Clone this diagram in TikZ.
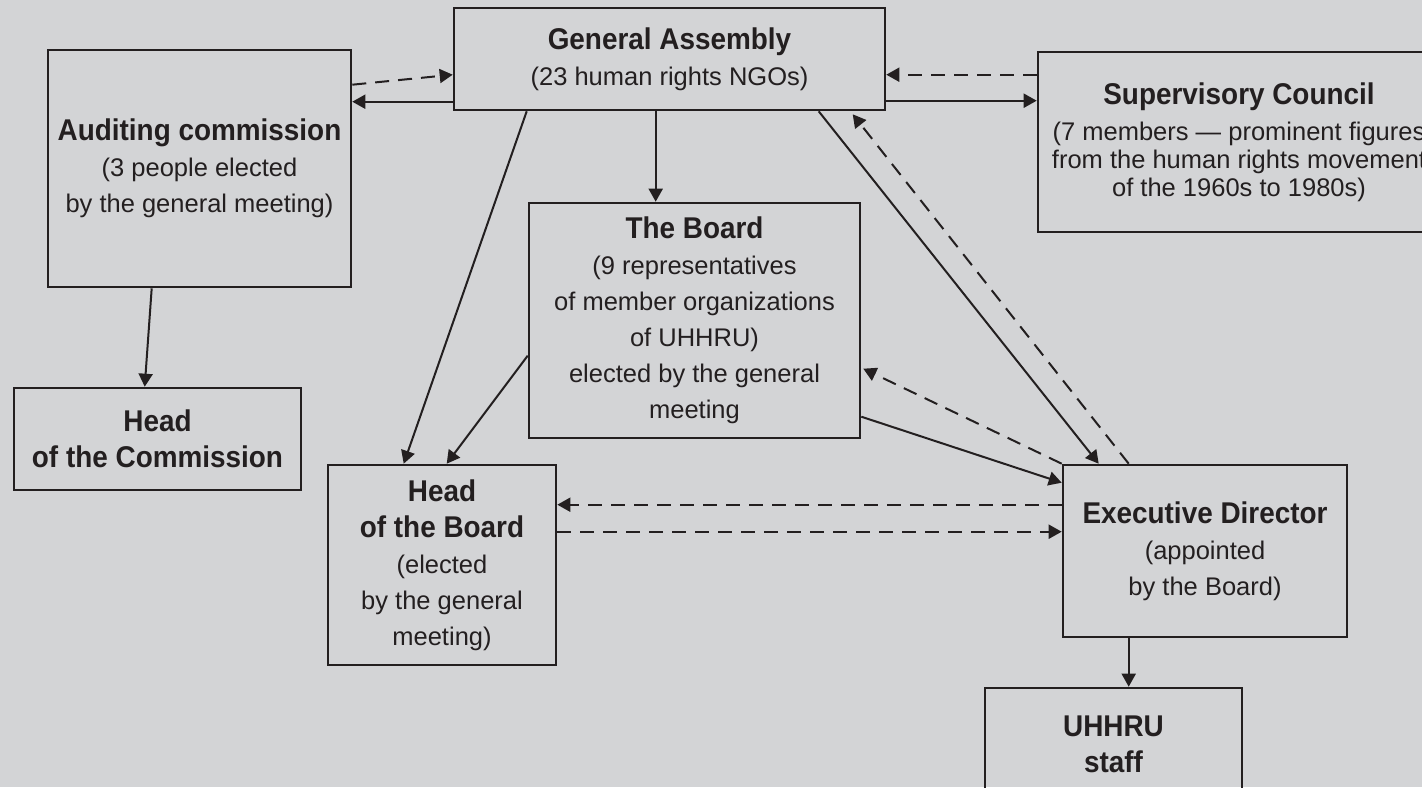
\documentclass[tikz,border=0pt]{standalone}
\usepackage{fontspec}
\setmainfont{Liberation Sans}
\newfontfamily\ttlfont{Liberation Sans}[FakeStretch=0.93]
\usetikzlibrary{arrows.meta,calc}
\definecolor{bg}{RGB}{211,212,214}
\definecolor{ink}{RGB}{35,31,32}
\newcommand{\ttl}[1]{{\ttlfont\bfseries\fontsize{15}{18}\selectfont #1}}
\begin{document}
\begin{tikzpicture}[x=0.5pt,y=-0.5pt,
  box/.style={draw=ink, line width=1.3pt, inner sep=0pt, align=center, text=ink,
    font=\fontsize{12.75}{18}\selectfont},
  arr/.style={draw=ink, line width=1pt, -{Triangle[length=6.5pt,width=7pt]}},
  dasharr/.style={arr, dash pattern=on 7pt off 4.5pt}]
\fill[bg] (0,0) rectangle (1422,787);
\useasboundingbox (0,0) rectangle (1422,787);
\node[box, minimum width=215.5pt, minimum height=51pt] (ga) at (669.5,59)
  {\ttl{General Assembly}\\(23 human rights NGOs)};
\node[box, minimum width=151.5pt, minimum height=118.5pt] (ac) at (199.5,168.5)
  {\ttl{Auditing commission}\\(3 people elected\\by the general meeting)};
\node[box, minimum width=143.5pt, minimum height=51pt] (hc) at (157.5,439)
  {\ttl{Head}\\\ttl{of the Commission}};
\node[box, minimum width=201pt, minimum height=90pt] (sc) at (1239,142)
  {\ttl{Supervisory Council}\\[0pt](7 members — prominent figures\\[-4pt]from the human rights movement\\[-4pt]of the 1960s to 1980s)};
\node[box, minimum width=165.5pt, minimum height=117.5pt] (bd) at (694.5,320.5)
  {\ttl{The Board}\\(9 representatives\\of member organizations\\of UHHRU)\\elected by the general\\meeting};
\node[box, minimum width=114pt, minimum height=100pt] (hob) at (442,565)
  {\ttl{Head}\\\ttl{of the Board}\\(elected\\by the general\\meeting)};
\node[box, minimum width=142pt, minimum height=86pt] (ed) at (1205,551)
  {\ttl{Executive Director}\\(appointed\\by the Board)};
\node[box, minimum width=128.5pt, minimum height=56pt] (st) at (1113.5,744)
  {\ttl{UHHRU}\\\ttl{staff}};
% links to the assembly
\draw[dasharr] ($(ac.north east)+(0,36)$) -- ($(ga.north west)+(0,68)$);
\draw[arr] ($(ga.north west)+(0,95)$) -- ($(ac.north east)+(0,53)$);
\draw[dasharr] ($(sc.north west)+(0,24)$) -- ($(ga.north east)+(0,68)$);
\draw[arr] ($(ga.north east)+(0,94)$) -- ($(sc.north west)+(0,50)$);
\draw[arr] ($(ga.south west)+(203,0)$) -- ($(bd.north west)+(128,0)$);
\draw[arr] ($(ga.south west)+(74,0)$) -- ($(hob.north west)+(77,0)$);
\draw[arr] ($(ga.south west)+(366,0)$) -- ($(ed.north west)+(37,0)$);
\draw[dasharr] ($(ed.north west)+(67,0)$) -- ($(ga.south west)+(400,3)$);
% board and director
\draw[arr] ($(bd.north west)+(0,154)$) -- ($(hob.north west)+(120,0)$);
\draw[dasharr] (ed.north west) -- ($(bd.north east)+(2,167)$);
\draw[arr] ($(bd.north east)+(0,215)$) -- ($(ed.north west)+(0,19)$);
\draw[dasharr] ($(ed.north west)+(0,41)$) -- ($(hob.north east)+(0,41)$);
\draw[dasharr] ($(hob.north east)+(0,68)$) -- ($(ed.north west)+(0,68)$);
\draw[arr] ($(ac.south west)+(105,0)$) -- ($(hc.north west)+(132,0)$);
\draw[arr] ($(ed.south west)+(67,0)$) -- ($(st.north west)+(145,0)$);
\end{tikzpicture}
\end{document}
